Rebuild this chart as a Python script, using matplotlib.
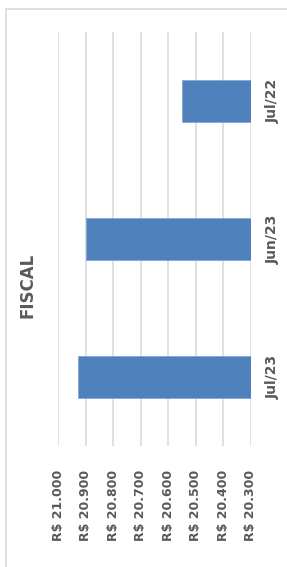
import matplotlib
matplotlib.use('Agg')
import matplotlib.pyplot as plt
from matplotlib.patches import Rectangle

# Data
categories = ['Jul/23', 'Jun/23', 'Jul/22']
values = [20927, 20900, 20550]
ticks = [21000, 20900, 20800, 20700, 20600, 20500, 20400, 20300]
tick_labels = ['R$ 21.000', 'R$ 20.900', 'R$ 20.800', 'R$ 20.700',
               'R$ 20.600', 'R$ 20.500', 'R$ 20.400', 'R$ 20.300']
base = 20300
title = 'FISCAL'

W, H = 287, 567
fig = plt.figure(figsize=(W / 100, H / 100), dpi=100)
fig.patch.set_facecolor('white')

# outer frame of the chart area
fig.patches.append(Rectangle((6 / W, -0.02), 1.1, (H + 11 - 9) / H,
                             transform=fig.transFigure, fill=False,
                             edgecolor='#D9D9D9', linewidth=1.2))

ax = fig.add_axes([58 / W, (H - 446) / H, (250.7 - 58) / W, (446 - 32) / H])
pos = list(range(len(categories)))
ax.barh(pos, [v - base for v in values], left=base, height=0.31,
        color='#4F81BD', edgecolor='#7FA3D0', linewidth=0.5, zorder=3)

ax.set_xlim(21000, 20300)
ax.set_ylim(-0.5, 2.5)
ax.set_xticks(ticks)
ax.set_xticklabels(tick_labels, rotation=90, fontsize=9, fontweight='bold',
                   color='#595959')
ax.xaxis.grid(True, color='#D9D9D9', linewidth=1.1, zorder=0)
ax.tick_params(axis='x', length=0, pad=17)

ax.yaxis.tick_right()
ax.set_yticks(pos)
ax.set_yticklabels(categories, rotation=90, va='center', fontsize=10,
                   fontweight='bold', color='#595959')
ax.tick_params(axis='y', length=0, pad=11)

for s in ax.spines.values():
    s.set_visible(False)

fig.text(28 / W, 1 - 285 / H, title, rotation=90, ha='center', va='center',
         fontsize=12, fontweight='bold', color='#595959')

fig.savefig('out.png', dpi=100)
